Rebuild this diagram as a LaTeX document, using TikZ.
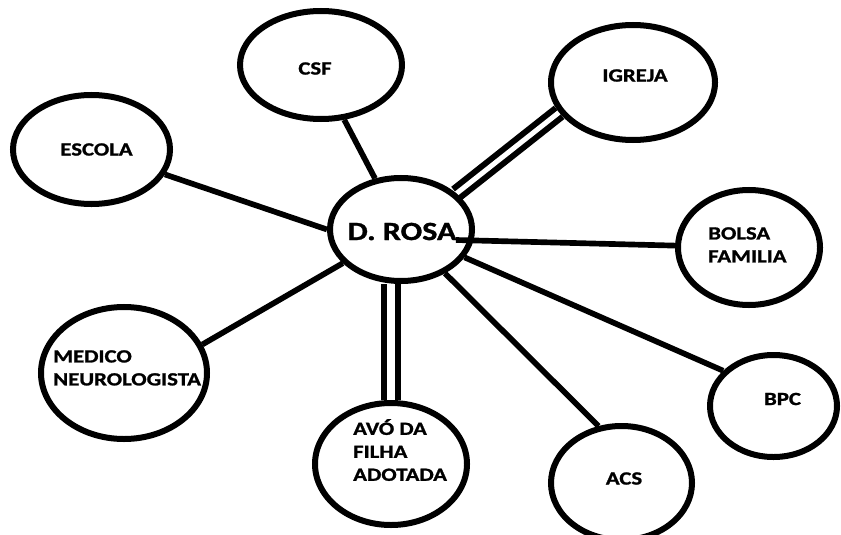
\documentclass[tikz,border=0pt]{standalone}
\usepackage{fontspec}
\usetikzlibrary{shapes.geometric,backgrounds}
\newfontfamily\lblfont[FakeStretch=1.22, BoldFeatures={FakeBold=1.2}]{Carlito}
\tikzset{
	ring/.style={draw, ellipse, line width=0.18cm, inner sep=0},
	txt/.style={inner sep=0, align=left, font=\lblfont\bfseries\fontsize{15.9}{19.6}\selectfont},
	bond/.style={line width=0.17cm},
	strongbond/.style={line width=0.2cm, double, double distance=0.22cm}
}
\begin{document}
\begin{tikzpicture}[x=0.03cm, y=-0.03cm]
	\useasboundingbox (0, 0) rectangle (841, 535);
	% rings
	\node[ring, minimum width=4.86cm, minimum height=3.24cm] (csf) at (321, 65) {};
	\node[ring, minimum width=4.71cm, minimum height=3.27cm] (escola) at (91.5, 149.5) {};
	\node[ring, minimum width=4.26cm, minimum height=3.09cm] (rosa) at (401, 229.5) {};
	\node[ring, minimum width=4.92cm, minimum height=3.45cm] (igreja) at (633, 82.5) {};
	\node[ring, minimum width=4.26cm, minimum height=3.45cm] (bolsa) at (749, 247.5) {};
	\node[ring, minimum width=4.98cm, minimum height=3.96cm] (medico) at (124, 373) {};
	\node[ring, minimum width=4.56cm, minimum height=3.66cm] (avo) at (391, 464) {};
	\node[ring, minimum width=4.23cm, minimum height=3.42cm] (acs) at (621.5, 483) {};
	\node[ring, minimum width=3.81cm, minimum height=3.06cm] (bpc) at (773.5, 406) {};
	% texts
	\node[txt] (csftext) at (315, 68.5) {CSF};
	\node[txt] (escolatext) at (96.5, 149.5) {ESCOLA};
	\node[txt, font=\lblfont\bfseries\fontsize{22.4}{26}\selectfont] (rosatext) at (402, 231.5) {D. ROSA};
	\node[txt] (igrejatext) at (635, 75.5) {IGREJA};
	\node[txt, anchor=north west] (bolsatext) at (708, 227) {BOLSA\\FAMILIA};
	\node[txt, anchor=north west] (medicotext) at (53, 350) {MEDICO\\NEUROLOGISTA};
	\node[txt, anchor=north west] (avotext) at (353, 419) {AVÓ DA\\FILHA\\ADOTADA};
	\node[txt] (acstext) at (624, 478.5) {ACS};
	\node[txt] (bpctext) at (782.5, 399) {BPC};
	% links
	\begin{scope}[on background layer]
		\coordinate (rosaA) at (456, 240);
		\draw[bond] (rosa.117) -- (csf.-67);
		\draw[bond] (escola) -- (rosa.west);
		\draw[strongbond, line width=0.18cm, double distance=0.15cm] (rosa.33) -- (igreja.202);
		\draw[bond] (rosaA) -- (bolsa);
		\draw[bond] (rosa) -- (bpc.145);
		\draw[bond] (rosa) -- (acs.112);
		\draw[bond] (rosa) -- (medico.20);
		\draw[strongbond] (avo.north) -- (avo.north |- rosa.south);
	\end{scope}
\end{tikzpicture}
\end{document}
